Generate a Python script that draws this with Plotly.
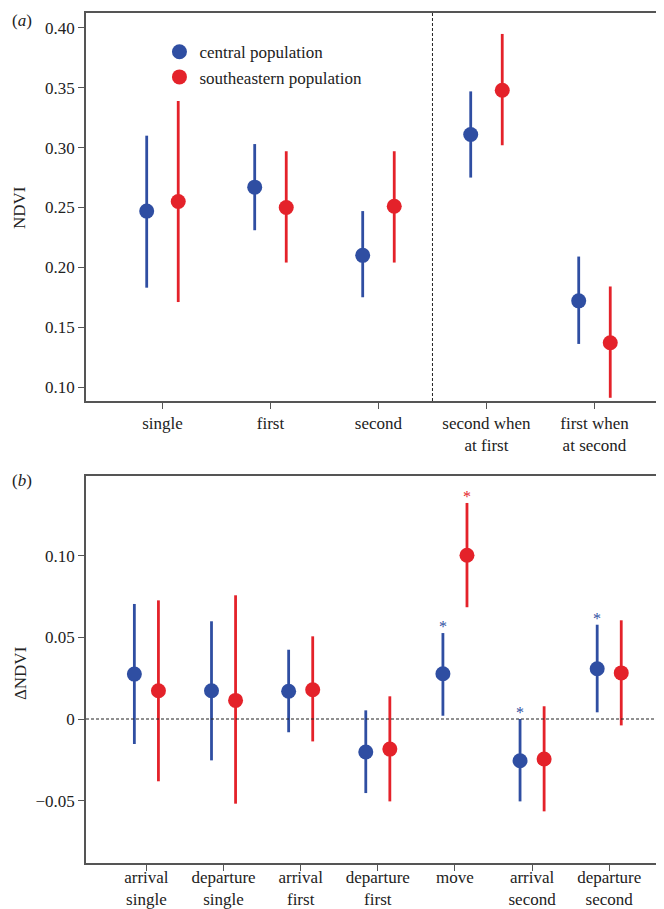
import plotly.graph_objects as go

# ---------- data: panel (a) ----------
cats_a = ["single", "first", "second", "second when<br>at first", "first when<br>at second"]
central_a = [0.247, 0.267, 0.210, 0.311, 0.172]
central_a_lo = [0.183, 0.231, 0.175, 0.275, 0.136]
central_a_hi = [0.310, 0.303, 0.247, 0.347, 0.209]
south_a = [0.255, 0.250, 0.251, 0.348, 0.137]
south_a_lo = [0.171, 0.204, 0.204, 0.302, 0.091]
south_a_hi = [0.339, 0.297, 0.297, 0.395, 0.184]

# ---------- data: panel (b) ----------
cats_b = ["arrival<br>single", "departure<br>single", "arrival<br>first", "departure<br>first",
          "move", "arrival<br>second", "departure<br>second"]
central_b = [0.0275, 0.0173, 0.0170, -0.0202, 0.0277, -0.0255, 0.0308]
central_b_lo = [-0.0153, -0.0253, -0.0081, -0.0453, 0.0020, -0.0504, 0.0041]
central_b_hi = [0.0704, 0.0598, 0.0424, 0.0053, 0.0526, 0.0000, 0.0577]
south_b = [0.0173, 0.0114, 0.0179, -0.0184, 0.1002, -0.0245, 0.0282]
south_b_lo = [-0.0381, -0.0518, -0.0137, -0.0504, 0.0684, -0.0565, -0.0039]
south_b_hi = [0.0726, 0.0757, 0.0506, 0.0139, 0.1322, 0.0078, 0.0604]
central_b_sig = [False, False, False, False, True, True, True]
south_b_sig = [False, False, False, False, True, False, False]

BLUE = "#2F4EA2"
RED = "#E4222A"
FONT = "Liberation Serif, Times New Roman, DejaVu Serif, serif"
OFF_A = 0.146
OFF_B = 0.156

fig = go.Figure()


def add_series(xs, ys, lo, hi, color, name, xaxis, yaxis, showlegend):
    fig.add_trace(go.Scatter(
        x=xs, y=ys, mode="markers", name=name, showlegend=showlegend,
        xaxis=xaxis, yaxis=yaxis,
        marker=dict(color=color, size=15, line=dict(width=0)),
        error_y=dict(type="data", symmetric=False,
                     array=[h - v for h, v in zip(hi, ys)],
                     arrayminus=[v - l for v, l in zip(ys, lo)],
                     color=color, thickness=2.8, width=0),
    ))


xa = list(range(len(cats_a)))
xb = list(range(len(cats_b)))
add_series([i - OFF_A for i in xa], central_a, central_a_lo, central_a_hi, BLUE,
           "central population", "x", "y", True)
add_series([i + OFF_A for i in xa], south_a, south_a_lo, south_a_hi, RED,
           "southeastern population", "x", "y", True)
add_series([i - OFF_B for i in xb], central_b, central_b_lo, central_b_hi, BLUE,
           "central population", "x2", "y2", False)
add_series([i + OFF_B for i in xb], south_b, south_b_lo, south_b_hi, RED,
           "southeastern population", "x2", "y2", False)

# significance asterisks
for i, s in enumerate(central_b_sig):
    if s:
        fig.add_annotation(x=i - OFF_B, y=central_b_hi[i], xref="x2", yref="y2",
                           text="*", showarrow=False, yanchor="bottom", yshift=-4,
                           font=dict(family=FONT, size=16, color=BLUE))
for i, s in enumerate(south_b_sig):
    if s:
        fig.add_annotation(x=i + OFF_B, y=south_b_hi[i], xref="x2", yref="y2",
                           text="*", showarrow=False, yanchor="bottom", yshift=-4,
                           font=dict(family=FONT, size=16, color=RED))

# dashed reference lines
fig.add_shape(type="line", xref="x", yref="y domain", x0=2.5, x1=2.5, y0=0, y1=1,
              line=dict(color="#222", width=1, dash="3px,2px"))
fig.add_shape(type="line", xref="x2 domain", yref="y2", x0=0, x1=1, y0=0, y1=0,
              line=dict(color="#222", width=1, dash="3px,2px"))

axis_common = dict(showline=True, linecolor="#555", linewidth=1.5, mirror=True,
                   ticks="outside", ticklen=6, tickwidth=1.2, tickcolor="#555",
                   showgrid=False, zeroline=False,
                   tickfont=dict(family=FONT, size=17, color="#222"))

fig.update_layout(
    width=664, height=909,
    margin=dict(l=78, r=1, t=5, b=54),
    paper_bgcolor="white", plot_bgcolor="white",
    font=dict(family=FONT, size=17, color="#222"),
    xaxis=dict(domain=[0, 1], anchor="y", range=[-0.708, 4.69],
               tickvals=xa, ticktext=cats_a, **axis_common),
    yaxis=dict(domain=[0.5435, 1], anchor="x", range=[0.0883, 0.4125],
               tickvals=[0.10, 0.15, 0.20, 0.25, 0.30, 0.35, 0.40],
               ticktext=["0.10", "0.15", "0.20", "0.25", "0.30", "0.35", "0.40"],
               **axis_common),
    xaxis2=dict(domain=[0, 1], anchor="y2", range=[-0.783, 6.775],
                tickvals=xb, ticktext=cats_b, ticklabelstandoff=-8, **axis_common),
    yaxis2=dict(domain=[0, 0.4553], anchor="x2", range=[-0.0881, 0.1487],
                tickvals=[-0.05, 0, 0.05, 0.10],
                ticktext=["\u22120.05", "0", "0.05", "0.10"],
                **axis_common),
    legend=dict(x=0.126, y=0.975, xanchor="left", yanchor="top",
                bgcolor="rgba(0,0,0,0)", font=dict(family=FONT, size=17, color="#222"),
                tracegroupgap=0, itemwidth=30),
    showlegend=True,
)

# panel letters and axis titles
fig.add_annotation(xref="paper", yref="paper", x=-0.13, y=(855 - 13) / 850,
                   text="(<i>a</i>)", showarrow=False, xanchor="left", yanchor="middle",
                   font=dict(family=FONT, size=17, color="#222"))
fig.add_annotation(xref="paper", yref="paper", x=-0.13, y=(855 - 473) / 850,
                   text="(<i>b</i>)", showarrow=False, xanchor="left", yanchor="middle",
                   font=dict(family=FONT, size=17, color="#222"))
fig.add_annotation(xref="paper", yref="paper", x=-0.113, y=(855 - 200) / 850,
                   text="NDVI", textangle=-90, showarrow=False,
                   xanchor="center", yanchor="middle",
                   font=dict(family=FONT, size=17, color="#222"))
fig.add_annotation(xref="paper", yref="paper", x=-0.113, y=(855 - 665) / 850,
                   text="\u0394NDVI", textangle=-90, showarrow=False,
                   xanchor="center", yanchor="middle",
                   font=dict(family=FONT, size=17, color="#222"))

fig.write_html("out.html")
